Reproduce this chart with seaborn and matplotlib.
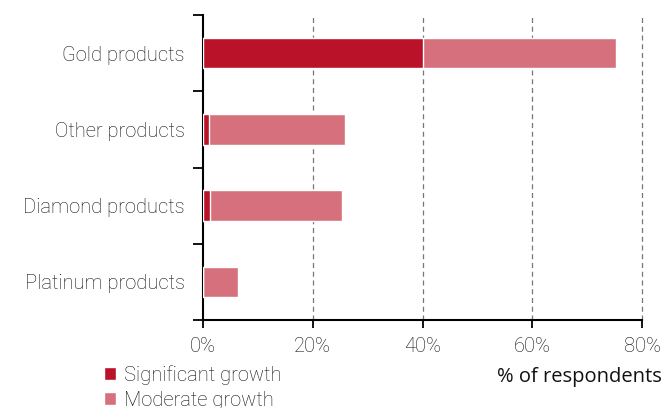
import numpy as np
import pandas as pd
import matplotlib
matplotlib.use('Agg')
import matplotlib.pyplot as plt
from matplotlib.patches import Patch
import seaborn as sns

# Data
categories = ['Gold products', 'Other products', 'Diamond products', 'Platinum products']
significant = [40.0, 1.1, 1.2, 0.0]
moderate = [35.2, 24.8, 24.1, 6.4]

sig_color = '#BA1228'
mod_color = '#D6707C'
text_color = '#111111'

sns.set_style('white')
plt.rcParams['font.family'] = ['Roboto', 'DejaVu Sans']
plt.rcParams['font.weight'] = 'light'
plt.rcParams['text.color'] = text_color
plt.rcParams['xtick.color'] = 'black'
plt.rcParams['ytick.color'] = 'black'
plt.rcParams['xtick.labelcolor'] = text_color
plt.rcParams['ytick.labelcolor'] = text_color

df = pd.DataFrame({'Category': categories,
                   'Significant': significant,
                   'Moderate': moderate})
df['Total'] = df['Significant'] + df['Moderate']

fig = plt.figure(figsize=(6.64, 4.08), dpi=100)
ax = fig.add_axes([203 / 664, 1 - 320 / 408, 439 / 664, 305 / 408])

sns.barplot(data=df, x='Total', y='Category', color=mod_color, width=0.4,
            saturation=1, ax=ax, zorder=3)
sns.barplot(data=df, x='Significant', y='Category', color=sig_color, width=0.4,
            saturation=1, ax=ax, zorder=4)

ax.set_xlim(0, 80)
ax.set_ylim(3.5, -0.5)
ax.set_xticks([0, 20, 40, 60, 80])
ax.set_xticklabels([f'{v}%' for v in [0, 20, 40, 60, 80]], fontsize=14.5)
ax.set_yticks(np.arange(len(categories)))
ax.set_yticklabels(categories, fontsize=14.5)
ax.set_yticks(np.arange(-0.5, len(categories)), minor=True)
ax.tick_params(axis='y', which='major', left=False, length=0, pad=13)
ax.tick_params(axis='y', which='minor', left=True, length=7, width=1.3, direction='out')
ax.tick_params(axis='x', which='major', bottom=True, length=6, width=1.3, direction='out', pad=6)
ax.set_xlabel('')
ax.set_ylabel('')

for v in [20, 40, 60, 80]:
    ax.axvline(v, color='#777777', linestyle=(0, (4, 3)), linewidth=0.9, zorder=1,
               clip_on=False)

for s in ['top', 'right']:
    ax.spines[s].set_visible(False)
for s in ['left', 'bottom']:
    ax.spines[s].set_color('black')
    ax.spines[s].set_linewidth(1.5)

fig.text(662 / 664, 1 - 377 / 408, '% of respondents', ha='right', va='center',
         fontsize=14.5, family=['Open Sans', 'DejaVu Sans'], weight='normal')

handles = [Patch(facecolor=sig_color, label='Significant growth'),
           Patch(facecolor=mod_color, label='Moderate growth')]
fig.legend(handles=handles, loc='upper left', bbox_to_anchor=(96 / 664, 1 - 357 / 408),
           frameon=False, fontsize=14.5, handlelength=0.6, handleheight=0.6,
           handletextpad=0.4, labelspacing=0.3, borderaxespad=0)

fig.savefig('out.png', dpi=100)
